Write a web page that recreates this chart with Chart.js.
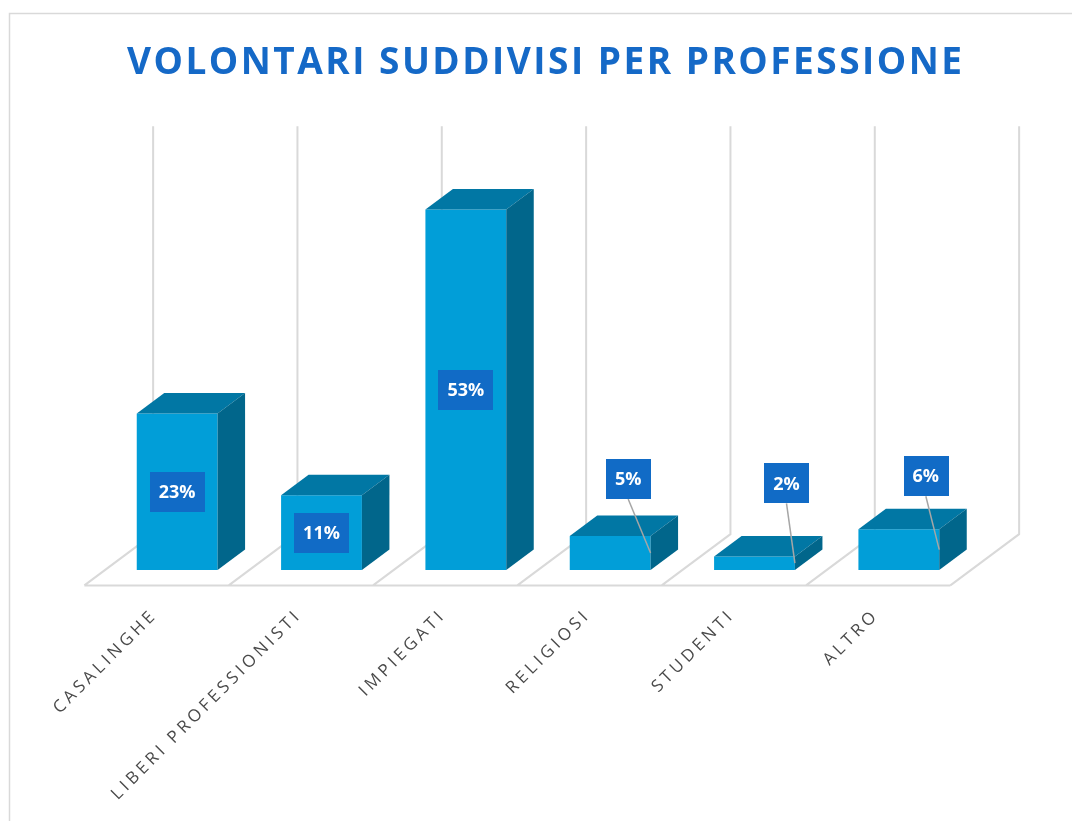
<!DOCTYPE html>
<html>
<head>
<meta charset="utf-8">
<script src="https://cdn.jsdelivr.net/npm/chart.js@4/dist/chart.umd.min.js"></script>
<style>
  body { margin: 0; background: #fff; }
  #wrap { width: 1072px; height: 821px; }
</style>
</head>
<body>
<div id="wrap"><canvas id="grafico" width="1072" height="821"></canvas></div>
<script>
// dati
const categorie = ['CASALINGHE', 'LIBERI PROFESSIONISTI', 'IMPIEGATI', 'RELIGIOSI', 'STUDENTI', 'ALTRO'];
const percentuali = [23, 11, 53, 5, 2, 6];
const yMin = 0;
const yMax = 60;
const titolo = 'VOLONTARI SUDDIVISI PER PROFESSIONE';

// spostamento delle etichette esterne (solo barre basse), rispetto alla cima della barra
const spostamentiEtichette = [null, null, null, [18, -57], [32, -73], [27, -53]];

const profondita = { x: 27.5, y: -20.5 };   // vettore di profondita' delle barre
const pavimentoDavanti = -0.75;             // in unita' di profondita'
const pavimentoDietro = 1.75;
const griglia = '#d9d9d9';
const coloreFronte = '#019ed8';
const coloreCima = '#0177a4';
const coloreLato = '#01668b';
const coloreBox = '#116bc6';

function testoSpaziato(ctx, testo, x, y, spazio, allinea) {
  const chars = [...testo];
  const larg = chars.map(c => ctx.measureText(c).width);
  const tot = larg.reduce((a, b) => a + b, 0) + spazio * (chars.length - 1);
  let px = allinea === 'right' ? x - tot : allinea === 'center' ? x - tot / 2 : x;
  ctx.textAlign = 'left';
  chars.forEach((c, i) => {
    ctx.fillText(c, px, y);
    px += larg[i] + spazio;
  });
}

const sfondo3d = {
  id: 'sfondo3d',
  beforeDraw(chart) {
    const ctx = chart.ctx;
    ctx.save();
    ctx.fillStyle = '#fff';
    ctx.fillRect(0, 0, chart.width, chart.height);
    // cornice
    ctx.strokeStyle = '#d9d9d9';
    ctx.lineWidth = 1.5;
    ctx.beginPath();
    ctx.moveTo(9.5, chart.height);
    ctx.lineTo(9.5, 13.5);
    ctx.lineTo(chart.width, 13.5);
    ctx.stroke();
    // titolo, adattato alla larghezza del riferimento
    ctx.fillStyle = '#1569c7';
    ctx.font = 'bold 37px "Open Sans"';
    ctx.textBaseline = 'alphabetic';
    const chars = [...titolo];
    const somma = chars.reduce((a, c) => a + ctx.measureText(c).width, 0);
    const spazio = (835 - somma) / (chars.length - 1);
    testoSpaziato(ctx, titolo, 127, 74, spazio, 'left');
    ctx.restore();
  },
  beforeDatasetsDraw(chart) {
    const ctx = chart.ctx;
    const xs = chart.scales.x;
    const ys = chart.scales.y;
    const passo = xs.width / categorie.length;
    const base = ys.getPixelForValue(yMin);
    const cima = ys.getPixelForValue(yMax);
    const fx = profondita.x * pavimentoDavanti, fy = profondita.y * pavimentoDavanti;
    const bx = profondita.x * pavimentoDietro, by = profondita.y * pavimentoDietro;
    ctx.save();
    ctx.strokeStyle = griglia;
    ctx.lineWidth = 2;
    ctx.beginPath();
    for (let k = 0; k <= categorie.length; k++) {
      const x = xs.left + k * passo;
      ctx.moveTo(x + fx, base + fy);
      ctx.lineTo(x + bx, base + by);
      ctx.lineTo(x + bx, cima + by);
    }
    ctx.moveTo(xs.left + fx, base + fy);
    ctx.lineTo(xs.right + fx, base + fy);
    ctx.stroke();
    ctx.restore();
  },
  afterDatasetsDraw(chart) {
    const ctx = chart.ctx;
    const meta = chart.getDatasetMeta(0);
    const dx = profondita.x, dy = profondita.y;
    ctx.save();
    meta.data.forEach(bar => {
      const { x, y, base, width } = bar.getProps(['x', 'y', 'base', 'width'], true);
      const l = x - width / 2, r = x + width / 2;
      ctx.fillStyle = coloreCima;
      ctx.beginPath();
      ctx.moveTo(l, y); ctx.lineTo(r, y); ctx.lineTo(r + dx, y + dy); ctx.lineTo(l + dx, y + dy);
      ctx.closePath(); ctx.fill();
      ctx.fillStyle = coloreLato;
      ctx.beginPath();
      ctx.moveTo(r, y); ctx.lineTo(r + dx, y + dy); ctx.lineTo(r + dx, base + dy); ctx.lineTo(r, base);
      ctx.closePath(); ctx.fill();
    });
    // etichette dei dati
    ctx.font = 'bold 18px "Open Sans"';
    ctx.textBaseline = 'middle';
    meta.data.forEach((bar, i) => {
      const { x, y, base, width } = bar.getProps(['x', 'y', 'base', 'width'], true);
      const testo = percentuali[i] + '%';
      const w = ctx.measureText(testo).width + 18, h = 40;
      const medio = (y + base) / 2;
      let cx = x, cy = medio;
      const sp = spostamentiEtichette[i];
      if (sp) {
        cx = x + sp[0];
        cy = y + sp[1];
        ctx.strokeStyle = '#a6a6a6';
        ctx.lineWidth = 1.5;
        ctx.beginPath();
        ctx.moveTo(cx, cy + h / 2);
        ctx.lineTo(x + width / 2, medio);
        ctx.stroke();
      }
      ctx.fillStyle = coloreBox;
      ctx.fillRect(Math.round(cx - w / 2), Math.round(cy - h / 2), Math.round(w), h);
      ctx.fillStyle = '#fff';
      ctx.textAlign = 'center';
      ctx.fillText(testo, cx, cy + 1);
    });
    ctx.restore();
  },
  afterDraw(chart) {
    // etichette dell'asse x, ruotate di 45 gradi
    const ctx = chart.ctx;
    const xs = chart.scales.x;
    const ys = chart.scales.y;
    const base = ys.getPixelForValue(yMin) + profondita.y * pavimentoDavanti;
    ctx.save();
    ctx.fillStyle = '#4a4a4a';
    ctx.font = '17px "Open Sans"';
    ctx.textBaseline = 'alphabetic';
    categorie.forEach((c, i) => {
      const x = xs.getPixelForValue(i) + profondita.x * pavimentoDavanti;
      ctx.save();
      ctx.translate(x - 1, base + 33);
      ctx.rotate(-Math.PI / 4);
      testoSpaziato(ctx, c, 0, 0, 3.7, 'right');
      ctx.restore();
    });
    ctx.restore();
  }
};

new Chart(document.getElementById('grafico'), {
  type: 'bar',
  data: {
    labels: categorie,
    datasets: [{
      data: percentuali,
      backgroundColor: coloreFronte,
      borderWidth: 0,
      barPercentage: 0.56,
      categoryPercentage: 1
    }]
  },
  options: {
    responsive: false,
    devicePixelRatio: 1,
    animation: false,
    layout: { padding: { left: 105, right: 101, top: 162, bottom: 251 } },
    scales: {
      x: { display: false },
      y: { display: false, min: yMin, max: yMax }
    },
    plugins: {
      legend: { display: false },
      tooltip: { enabled: false }
    }
  },
  plugins: [sfondo3d]
});
</script>
</body>
</html>
